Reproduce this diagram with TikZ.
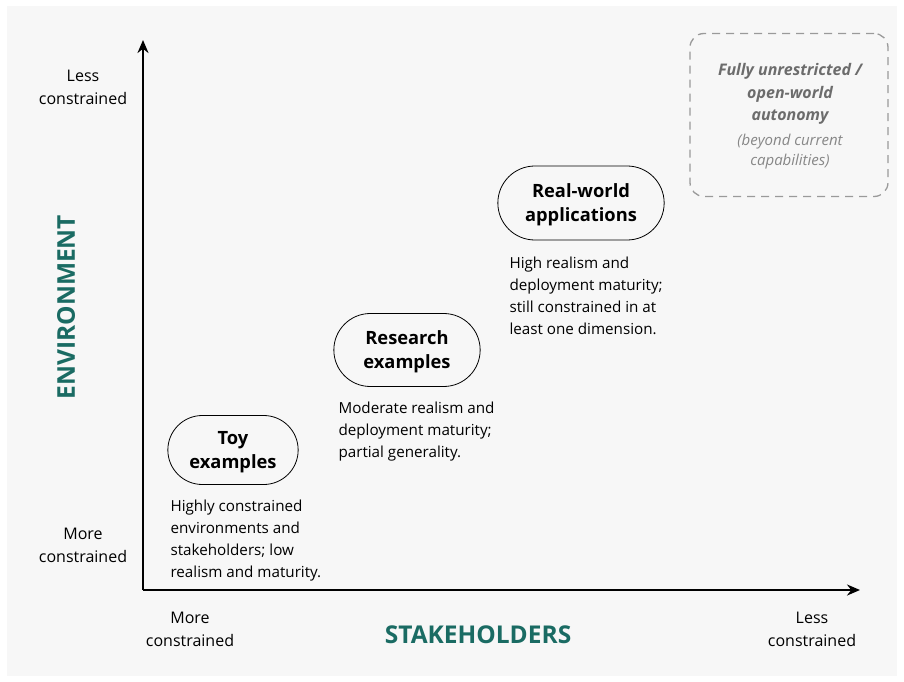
\documentclass[tikz,border=0pt]{standalone}
\usepackage{fontspec}
\setmainfont{Open Sans}
\usetikzlibrary{arrows.meta, positioning, shapes.misc}

\definecolor{panel}{HTML}{F7F7F7}
\definecolor{teal}{HTML}{1A6B63}
\definecolor{ghost}{HTML}{9A9A9A}

\begin{document}
\begin{tikzpicture}[
  x=1pt, y=-1pt,
  stage/.style={
    rounded rectangle,
    draw,
    thick,
    align=center,
    text depth=0pt,
    font=\bfseries\fontsize{18.3}{24}\selectfont
  },
  desc/.style={
    align=left,
    anchor=north west,
    font=\fontsize{15.2}{22.3}\selectfont
  },
  tick/.style={align=center, font=\fontsize{16}{23}\selectfont},
  axisname/.style={font=\bfseries\fontsize{24.5}{26}\selectfont, text=teal},
  axis/.style={-{Stealth[length=13pt, width=11pt]}, line width=2.4pt}
]

% Background
\fill[white] (0,0) rectangle (904,682);
\fill[panel] (7,6) rectangle (897,676);
\useasboundingbox (0,0) rectangle (904,682);

% Axes
\coordinate (origin) at (143,590);
\coordinate (ytip) at (143,40);
\coordinate (xtip) at (860,590);
\draw[axis] (origin) -- (ytip);
\draw[axis] (origin) -- (xtip);

% Axis labels
\node[tick] (yhigh) at (83,87) {Less\\constrained};
\node[tick] (ylow) at (83,545) {More\\constrained};
\node[tick] (xlow) at (190,629) {More\\constrained};
\node[tick] (xhigh) at (812,629) {Less\\constrained};
\node[axisname, rotate=90] (env) at (66,307) {ENVIRONMENT};
\node[axisname] (stake) at (478,635) {STAKEHOLDERS};

% Stages
\node[stage, minimum width=137pt, minimum height=69pt] (toy) at (233,450) {Toy\\examples};
\node[stage, minimum width=153pt, minimum height=73pt] (research) at (407,350) {Research\\examples};
\node[stage, minimum width=173pt, minimum height=74pt] (real) at (581,203) {Real-world\\applications};

% Descriptions
\node[desc] (toytext) at (167,496)
  {Highly constrained\\environments and\\stakeholders; low\\realism and maturity.};
\node[desc] (researchtext) at (335,398)
  {Moderate realism and\\deployment maturity;\\partial generality.};
\node[desc] (realtext) at (506,253)
  {High realism and\\deployment maturity;\\still constrained in at\\least one dimension.};

% Out of reach
\node[draw=ghost, dashed, line width=1.3pt, dash pattern=on 8pt off 6pt, rounded corners=14pt,
  minimum width=198pt, minimum height=163pt] (open) at (789,115) {};
\node[align=center, text=ghost!70!black, font=\bfseries\itshape\fontsize{16}{22.2}\selectfont] (opentitle)
  at (790,94) {Fully unrestricted /\\open-world\\autonomy};
\node[align=center, text=ghost!88!black, font=\itshape\fontsize{15}{20}\selectfont] (opennote)
  at (790,152) {(beyond current\\capabilities)};

\end{tikzpicture}
\end{document}
